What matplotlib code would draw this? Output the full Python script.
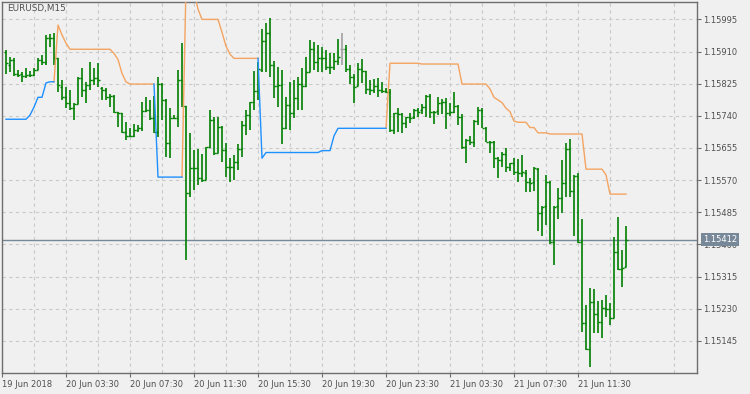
import numpy as np
import matplotlib
matplotlib.use("Agg")
import matplotlib.pyplot as plt
import matplotlib.transforms as mtrans
from matplotlib.ticker import FuncFormatter

# EURUSD M15 bars, first bar 19 Jun 2018 23:45
symbol = "EURUSD,M15"

opens = [1.15909, 1.15874, 1.15887, 1.15850, 1.15850, 1.15845, 1.15848, 1.15848, 1.15861, 1.15887,
         1.15882, 1.15946, 1.15946, 1.15893, 1.15817, 1.15790, 1.15774, 1.15761, 1.15771, 1.15840,
         1.15808, 1.15822, 1.15835, 1.15840, 1.15814, 1.15808, 1.15790, 1.15793, 1.15750, 1.15747,
         1.15697, 1.15686, 1.15686, 1.15702, 1.15708, 1.15753, 1.15755, 1.15734, 1.15697, 1.15824,
         1.15782, 1.15668, 1.15734, 1.15734, 1.15835, 1.15766, 1.15536, 1.15602, 1.15602, 1.15576,
         1.15570, 1.15658, 1.15729, 1.15642, 1.15710, 1.15650, 1.15605, 1.15605, 1.15618, 1.15652,
         1.15716, 1.15742, 1.15777, 1.15806, 1.15861, 1.15938, 1.15959, 1.15874, 1.15819, 1.15822,
         1.15708, 1.15769, 1.15747, 1.15787, 1.15824, 1.15819, 1.15856, 1.15917, 1.15882, 1.15893,
         1.15893, 1.15869, 1.15869, 1.15885, 1.15917, 1.15917, 1.15864, 1.15842, 1.15819, 1.15864,
         1.15858, 1.15811, 1.15808, 1.15819, 1.15808, 1.15806, 1.15803, 1.15702, 1.15747, 1.15745,
         1.15721, 1.15737, 1.15737, 1.15755, 1.15755, 1.15763, 1.15792, 1.15750, 1.15753, 1.15774,
         1.15777, 1.15747, 1.15750, 1.15766, 1.15737, 1.15658, 1.15676, 1.15671, 1.15726, 1.15755,
         1.15708, 1.15671, 1.15671, 1.15629, 1.15623, 1.15639, 1.15605, 1.15615, 1.15591, 1.15589,
         1.15589, 1.15565, 1.15565, 1.15599, 1.15483, 1.15502, 1.15565, 1.15407, 1.15502, 1.15523,
         1.15562, 1.15652, 1.15541, 1.15581, 1.15407, 1.15193, 1.15124, 1.15248, 1.15216, 1.15195,
         1.15232, 1.15230, 1.15206, 1.15380, 1.15335, 1.15341]

highs = [1.15914, 1.15895, 1.15893, 1.15861, 1.15856, 1.15866, 1.15858, 1.15866, 1.15893, 1.15901,
         1.15954, 1.15956, 1.15959, 1.15893, 1.15835, 1.15817, 1.15808, 1.15774, 1.15842, 1.15866,
         1.15829, 1.15882, 1.15866, 1.15879, 1.15817, 1.15814, 1.15798, 1.15795, 1.15750, 1.15747,
         1.15724, 1.15708, 1.15718, 1.15716, 1.15777, 1.15790, 1.15782, 1.15792, 1.15842, 1.15827,
         1.15784, 1.15761, 1.15742, 1.15861, 1.15932, 1.15766, 1.15695, 1.15650, 1.15652, 1.15639,
         1.15658, 1.15755, 1.15737, 1.15737, 1.15713, 1.15668, 1.15629, 1.15637, 1.15665, 1.15726,
         1.15755, 1.15777, 1.15858, 1.15882, 1.15969, 1.15985, 1.15998, 1.15885, 1.15869, 1.15861,
         1.15790, 1.15829, 1.15835, 1.15842, 1.15866, 1.15895, 1.15940, 1.15935, 1.15927, 1.15922,
         1.15914, 1.15906, 1.15906, 1.15943, 1.15959, 1.15927, 1.15874, 1.15850, 1.15879, 1.15890,
         1.15858, 1.15835, 1.15837, 1.15840, 1.15829, 1.15814, 1.15811, 1.15747, 1.15761, 1.15747,
         1.15737, 1.15747, 1.15758, 1.15761, 1.15771, 1.15795, 1.15798, 1.15753, 1.15790, 1.15784,
         1.15787, 1.15774, 1.15803, 1.15769, 1.15745, 1.15679, 1.15687, 1.15729, 1.15763, 1.15761,
         1.15710, 1.15673, 1.15673, 1.15631, 1.15644, 1.15655, 1.15615, 1.15629, 1.15626, 1.15636,
         1.15597, 1.15576, 1.15605, 1.15602, 1.15502, 1.15584, 1.15568, 1.15502, 1.15549, 1.15623,
         1.15668, 1.15679, 1.15584, 1.15589, 1.15467, 1.15240, 1.15285, 1.15282, 1.15251, 1.15253,
         1.15267, 1.15245, 1.15420, 1.15473, 1.15385, 1.15449]

lows = [1.15850, 1.15856, 1.15845, 1.15842, 1.15830, 1.15840, 1.15842, 1.15845, 1.15861, 1.15874,
        1.15874, 1.15922, 1.15874, 1.15803, 1.15782, 1.15761, 1.15755, 1.15729, 1.15771, 1.15790,
        1.15774, 1.15808, 1.15822, 1.15817, 1.15782, 1.15782, 1.15764, 1.15747, 1.15710, 1.15694,
        1.15676, 1.15684, 1.15684, 1.15697, 1.15700, 1.15750, 1.15729, 1.15694, 1.15684, 1.15729,
        1.15631, 1.15628, 1.15732, 1.15710, 1.15763, 1.15359, 1.15525, 1.15544, 1.15557, 1.15565,
        1.15570, 1.15655, 1.15636, 1.15642, 1.15618, 1.15578, 1.15565, 1.15570, 1.15597, 1.15631,
        1.15689, 1.15702, 1.15755, 1.15782, 1.15856, 1.15856, 1.15842, 1.15787, 1.15763, 1.15665,
        1.15705, 1.15702, 1.15734, 1.15755, 1.15755, 1.15817, 1.15856, 1.15861, 1.15856, 1.15856,
        1.15861, 1.15850, 1.15861, 1.15874, 1.15874, 1.15856, 1.15824, 1.15774, 1.15819, 1.15827,
        1.15798, 1.15795, 1.15800, 1.15790, 1.15800, 1.15800, 1.15697, 1.15692, 1.15697, 1.15694,
        1.15708, 1.15721, 1.15732, 1.15737, 1.15745, 1.15737, 1.15734, 1.15718, 1.15742, 1.15745,
        1.15705, 1.15739, 1.15747, 1.15716, 1.15652, 1.15615, 1.15663, 1.15658, 1.15716, 1.15708,
        1.15671, 1.15642, 1.15602, 1.15576, 1.15605, 1.15591, 1.15594, 1.15584, 1.15565, 1.15578,
        1.15539, 1.15539, 1.15541, 1.15436, 1.15422, 1.15451, 1.15401, 1.15346, 1.15467, 1.15483,
        1.15526, 1.15526, 1.15422, 1.15404, 1.15169, 1.15121, 1.15076, 1.15166, 1.15166, 1.15153,
        1.15208, 1.15187, 1.15206, 1.15333, 1.15288, 1.15341]

closes = [1.15879, 1.15887, 1.15850, 1.15849, 1.15845, 1.15848, 1.15847, 1.15861, 1.15887, 1.15882,
          1.15946, 1.15945, 1.15893, 1.15822, 1.15790, 1.15774, 1.15761, 1.15771, 1.15840, 1.15808,
          1.15822, 1.15835, 1.15840, 1.15835, 1.15808, 1.15790, 1.15793, 1.15750, 1.15747, 1.15697,
          1.15686, 1.15687, 1.15702, 1.15708, 1.15753, 1.15755, 1.15734, 1.15697, 1.15824, 1.15782,
          1.15668, 1.15734, 1.15735, 1.15835, 1.15766, 1.15536, 1.15602, 1.15603, 1.15576, 1.15570,
          1.15658, 1.15729, 1.15642, 1.15710, 1.15650, 1.15605, 1.15606, 1.15618, 1.15652, 1.15716,
          1.15742, 1.15777, 1.15806, 1.15864, 1.15938, 1.15959, 1.15874, 1.15819, 1.15822, 1.15708,
          1.15769, 1.15747, 1.15787, 1.15824, 1.15819, 1.15856, 1.15917, 1.15882, 1.15893, 1.15894,
          1.15869, 1.15868, 1.15885, 1.15895, 1.15917, 1.15864, 1.15842, 1.15816, 1.15864, 1.15858,
          1.15811, 1.15808, 1.15819, 1.15808, 1.15806, 1.15803, 1.15702, 1.15747, 1.15745, 1.15721,
          1.15737, 1.15735, 1.15755, 1.15750, 1.15763, 1.15792, 1.15750, 1.15751, 1.15774, 1.15777,
          1.15747, 1.15750, 1.15766, 1.15737, 1.15658, 1.15676, 1.15671, 1.15726, 1.15755, 1.15709,
          1.15672, 1.15670, 1.15629, 1.15623, 1.15639, 1.15605, 1.15615, 1.15591, 1.15589, 1.15591,
          1.15565, 1.15563, 1.15602, 1.15483, 1.15500, 1.15565, 1.15407, 1.15499, 1.15523, 1.15562,
          1.15652, 1.15541, 1.15581, 1.15407, 1.15193, 1.15124, 1.15248, 1.15216, 1.15195, 1.15232,
          1.15230, 1.15206, 1.15380, 1.15335, 1.15338, 1.15412]

# indicator line: orange while above price, blue while below (None = not drawn)
upper_line = ([None] * 12 + [1.15830, 1.15980, 1.15954, 1.15932] + [1.15916] * 11 +
              [1.15905, 1.15889, 1.15852, 1.15830] + [1.15824] * 7 + [None] * 6 +
              [1.15578, 1.16083, 1.16112, 1.16070, 1.16022] + [1.15995] * 5 +
              [1.15961, 1.15924, 1.15903] + [1.15892] * 7 + [None] * 31 +
              [1.15707] + [1.15879] * 8 + [1.15877] * 10 + [1.15824] * 7 +
              [1.15811, 1.15789, 1.15782, 1.15775, 1.15760, 1.15751, 1.15726] +
              [1.15723] * 3 + [1.15709] * 2 + [1.15695] * 3 + [1.15692] * 9 +
              [1.15599] * 5 + [1.15584] + [1.15533] * 5)

lower_line = ([1.15731] * 6 + [1.15742, 1.15763, 1.15789, 1.15789, 1.15827, 1.15830, 1.15830] +
              [None] * 24 + [1.15824] + [1.15578] * 7 + [None] * 18 +
              [1.15892, 1.15628] + [1.15643] * 14 + [1.15648] * 3 + [1.15687] +
              [1.15707] * 13 + [None] * 60)

last_price = 1.15412
price_ticks = [1.15145, 1.15230, 1.15315, 1.15400, 1.15485, 1.15570,
               1.15655, 1.15740, 1.15825, 1.15910, 1.15995]
time_labels = ["19 Jun 2018", "20 Jun 03:30", "20 Jun 07:30", "20 Jun 11:30", "20 Jun 15:30",
               "20 Jun 19:30", "20 Jun 23:30", "21 Jun 03:30", "21 Jun 07:30", "21 Jun 11:30"]

bg = "#f0f0f0"
frame_c = "#6e6e6e"
grid_c = "#cacaca"
text_c = "#505050"
bar_c = "#008000"
doji_c = "#a0a0a0"
up_c = "#f4a460"
dn_c = "#1e90ff"
price_c = "#778899"

plt.rcParams['font.family'] = ['DejaVu Sans']

W, H = 750, 394
fig = plt.figure(figsize=(W / 100, H / 100), dpi=100, facecolor=bg)
ax = fig.add_axes([2 / W, 21 / H, 695 / W, 371 / H], facecolor=bg)

idx = np.arange(len(opens))
o = np.array(opens)
c = np.array(closes)
cols = [doji_c if oo == cc else bar_c for oo, cc in zip(o, c)]

ax.vlines(idx, lows, highs, colors=cols, lw=1.2, zorder=3)
ax.hlines(opens, idx - 0.5, idx, colors=cols, lw=1.0, zorder=3)
ax.hlines(closes, idx, idx + 0.5, colors=cols, lw=1.0, zorder=3)

ax.plot(idx, np.array(upper_line, dtype=float), color=up_c, lw=1.0, zorder=4)
ax.plot(idx, np.array(lower_line, dtype=float), color=dn_c, lw=1.0, zorder=4)
ax.axhline(last_price, color=price_c, lw=1.0, zorder=2)

ax.set_xlim(-1, 172.75)
ax.set_ylim(1.15060, 1.16041)

# axes / ticks
ax.yaxis.tick_right()
ax.set_yticks(price_ticks)
ax.yaxis.set_major_formatter(FuncFormatter(lambda v, p: "%.5f" % v))
ax.set_xticks([-1 + 16 * i for i in range(len(time_labels))])
ax.set_xticklabels(time_labels, ha="left")
ax.set_xticks([7 + 16 * i for i in range(11)], minor=True)
ax.tick_params(axis="both", which="major", direction="out", length=3, width=0.8,
               color=frame_c, labelcolor=text_c, labelsize=6, pad=1.5)
ax.tick_params(axis="x", which="minor", length=0)
ax.tick_params(axis="x", which="major", pad=2)

ax.set_axisbelow(True)
ax.grid(True, which="both", color=grid_c, linestyle=(0, (3, 3)), lw=0.8)
for s in ax.spines.values():
    s.set_color(frame_c)
    s.set_linewidth(1.0)

ax.text(0.007, 0.982, symbol, transform=ax.transAxes, ha="left", va="center",
        fontsize=6.4, color=text_c)

# current price tag on the right scale
tr = mtrans.blended_transform_factory(ax.transAxes, ax.transData)
ax.text(1.0086, last_price, "%.5f" % last_price, transform=tr, ha="left", va="center",
        fontsize=6, color="white", clip_on=False, zorder=10,
        bbox=dict(boxstyle="square,pad=0.25", fc=price_c, ec="none"))

fig.savefig("out.png", dpi=100, facecolor=bg)
